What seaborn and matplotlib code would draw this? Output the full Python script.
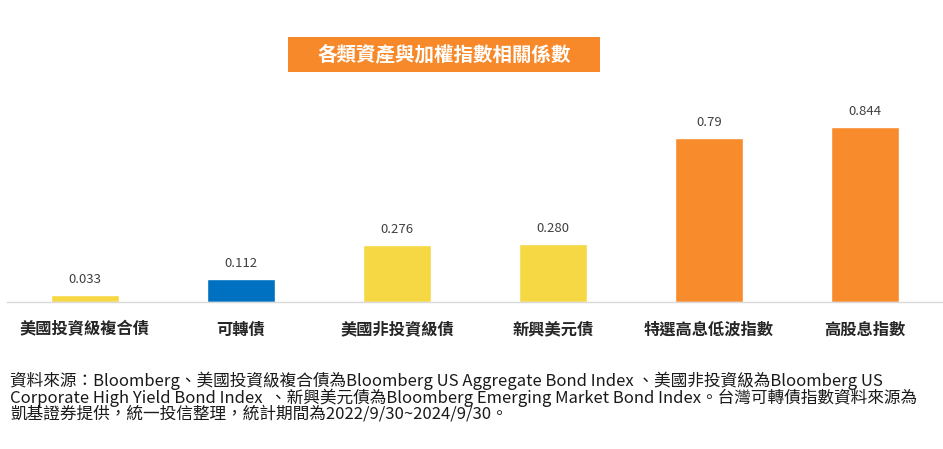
import pandas as pd
import seaborn as sns
import matplotlib.pyplot as plt
from matplotlib.patches import Rectangle

# 資料
categories = ['美國投資級複合債', '可轉債', '美國非投資級債', '新興美元債', '特選高息低波指數', '高股息指數']
values = [0.033, 0.112, 0.276, 0.280, 0.79, 0.844]
value_labels = ['0.033', '0.112', '0.276', '0.280', '0.79', '0.844']
groups = ['債券', '可轉債', '債券', '債券', '股票', '股票']

title = '各類資產與加權指數相關係數'
note = ('資料來源：Bloomberg、美國投資級複合債為Bloomberg US Aggregate Bond Index 、美國非投資級為Bloomberg US\n'
        'Corporate High Yield Bond Index  、新興美元債為Bloomberg Emerging Market Bond Index。台灣可轉債指數資料來源為\n'
        '凱基證券提供，統一投信整理，統計期間為2022/9/30~2024/9/30。')

palette = {'債券': '#F6D845', '可轉債': '#0070C0', '股票': '#F88B2C'}

sns.set_style('white')
plt.rcParams['font.family'] = ['Noto Sans CJK TC', 'DejaVu Sans']

df = pd.DataFrame({'cat': categories, 'val': values, 'grp': groups})

fig = plt.figure(figsize=(9.43, 4.49), dpi=100)
ax = fig.add_axes([0.0074, 0.3274, 0.9926, 0.461])

sns.barplot(data=df, x='cat', y='val', hue='grp', palette=palette,
            width=0.436, dodge=False, legend=False, saturation=1, ax=ax)

ax.set_ylim(0, 1.0)
ax.set_xlim(-0.5, len(categories) - 0.5)

for i, (v, lab) in enumerate(zip(values, value_labels)):
    ax.text(i, v + 0.045, lab, ha='center', va='bottom', fontsize=9.5, color='#404040')

ax.set_xlabel('')
ax.set_ylabel('')
ax.set_yticks([])
ax.tick_params(axis='x', length=0, pad=14, labelsize=11.7, labelcolor='#262626')
for t in ax.get_xticklabels():
    t.set_fontweight('bold')

sns.despine(ax=ax, left=True, top=True, right=True)
ax.spines['bottom'].set_color('#D9D9D9')
ax.spines['bottom'].set_linewidth(1)

# 標題框
fig.patches.append(Rectangle((288 / 943, 1 - 72 / 449), 312 / 943, 35 / 449,
                             transform=fig.transFigure, facecolor='#F7892B',
                             edgecolor='none'))
fig.text(444 / 943, 1 - 54.5 / 449, title, ha='center', va='center',
         fontsize=14, fontweight='bold', color='white')

# 註解
fig.text(10 / 943, 1 - 372 / 449, note, ha='left', va='top', fontsize=12,
         color='#1a1a1a', linespacing=0.88)

fig.savefig('out.png', dpi=100)
